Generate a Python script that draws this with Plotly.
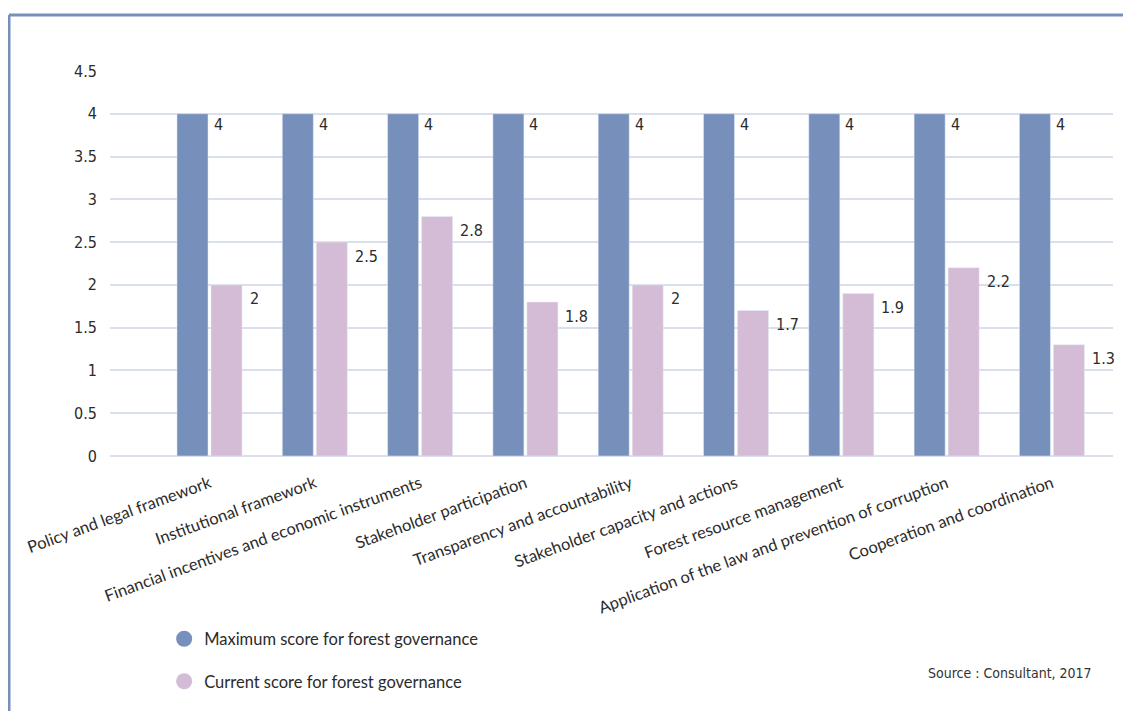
import plotly.graph_objects as go

categories = [
    "Policy and legal framework",
    "Institutional framework",
    "Financial incentives and economic instruments",
    "Stakeholder participation",
    "Transparency and accountability",
    "Stakeholder capacity and actions",
    "Forest resource management",
    "Application of the law and prevention of corruption",
    "Cooperation and coordination",
]
max_scores = [4, 4, 4, 4, 4, 4, 4, 4, 4]
current_scores = [2, 2.5, 2.8, 1.8, 2, 1.7, 1.9, 2.2, 1.3]
series_names = ["Maximum score for forest governance", "Current score for forest governance"]
y_ticks = [0, 0.5, 1, 1.5, 2, 2.5, 3, 3.5, 4, 4.5]
source_text = "Source : Consultant, 2017"

BLUE = "#778fbb"
PINK = "#d4bbd6"
GRID = "#d9dfeb"
TXT = "#2b2b2b"
NUM_FONT = "DejaVu Sans Condensed, Liberation Sans Narrow, DejaVu Sans, sans-serif"
CAT_FONT = "Lato, Open Sans, sans-serif"

fig = go.Figure()
fig.add_trace(go.Bar(x=categories, y=max_scores, marker_color=BLUE, showlegend=False,
                     name=series_names[0], hoverinfo="skip"))
fig.add_trace(go.Bar(x=categories, y=current_scores, marker_color=PINK, showlegend=False,
                     name=series_names[1], hoverinfo="skip"))

# legend entries with circle markers
for nm, col, grp in [(series_names[0], BLUE, "a"), (series_names[1], PINK, "b")]:
    fig.add_trace(go.Scatter(x=[None], y=[None], mode="markers", name=nm,
                             marker=dict(color=col, size=16, symbol="circle"),
                             legendgroup=grp, showlegend=True))

# value labels
for c, v in zip(categories, max_scores):
    fig.add_annotation(x=c, y=v, text=f"{v:g}", showarrow=False, xanchor="left", yanchor="middle",
                       xshift=2, yshift=-11, font=dict(family=NUM_FONT, size=16, color=TXT))
for c, v in zip(categories, current_scores):
    fig.add_annotation(x=c, y=v, text=f"{v:g}", showarrow=False, xanchor="left", yanchor="middle",
                       xshift=38, yshift=-14, font=dict(family=NUM_FONT, size=16, color=TXT))

fig.add_annotation(xref="paper", yref="paper", x=0.981, y=-0.563, text=source_text, showarrow=False,
                   xanchor="right", yanchor="middle",
                   font=dict(family=NUM_FONT, size=14, color="#333333"))

# outer frame (top and left lines)
fig.add_shape(type="line", xref="paper", yref="paper", x0=-0.1007, x1=1.03, y0=1.1455, y1=1.1455,
              line=dict(color=BLUE, width=3))
fig.add_shape(type="line", xref="paper", yref="paper", x0=-0.1007, x1=-0.1007, y0=1.1455, y1=-0.67,
              line=dict(color=BLUE, width=3))

fig.update_layout(
    width=1123, height=703,
    margin=dict(l=102, r=18, t=63, b=255),
    paper_bgcolor="white", plot_bgcolor="white",
    barmode="group", bargap=0.354, bargroupgap=0.088,
    showlegend=True,
    legend=dict(x=0.054, y=-0.43, xanchor="left", yanchor="top", orientation="v",
                traceorder="grouped", tracegroupgap=18,
                font=dict(family=CAT_FONT, size=16.5, color=TXT), bgcolor="rgba(0,0,0,0)"),
    font=dict(family=CAT_FONT, color=TXT),
)
fig.update_xaxes(type="category", range=[-0.945, 8.58], tickangle=-20, showgrid=False,
                 showline=False, ticks="", ticklabelstandoff=14,
                 tickfont=dict(family=CAT_FONT, size=16.5, color=TXT))
fig.update_yaxes(range=[0, 4.5], tickvals=y_ticks, ticktext=[f"{t:g}" for t in y_ticks],
                 showgrid=True, gridcolor=GRID, gridwidth=2, zeroline=True, zerolinecolor=GRID,
                 zerolinewidth=2, showline=False, ticks="", ticklabelstandoff=12,
                 tickfont=dict(family=NUM_FONT, size=16, color=TXT))

fig.write_html("out.html")
